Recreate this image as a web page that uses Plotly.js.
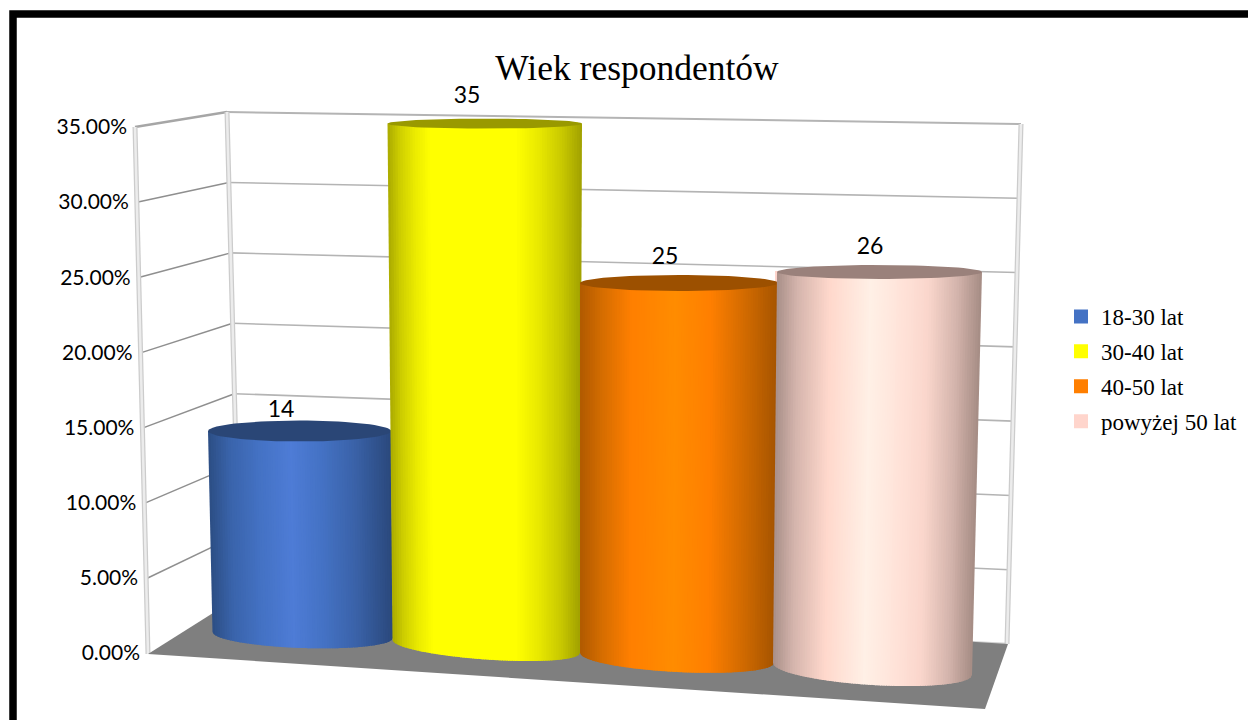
<!DOCTYPE html>
<html>
<head>
<meta charset="utf-8">
<script src="https://cdn.plot.ly/plotly-3.0.1.min.js"></script>
<style>html,body{margin:0;padding:0;background:#fff}#chart{width:1248px;height:720px}</style>
</head>
<body>
<div id="chart"></div>
<script>
// ---- data ----
const categories = ['18-30 lat', '30-40 lat', '40-50 lat', 'powyżej 50 lat'];
const values = [14, 35, 25, 26];
const tickValues = [0, 5, 10, 15, 20, 25, 30, 35];
const chartTitle = 'Wiek respondentów';

// ---- styles ----
const legendColors = ['#4472c4', '#ffff00', '#ff7f00', '#ffd5cc'];
const capColors = ['#2a4676', '#999900', '#9c5000', '#9a817b'];
const shading = [
  [[0,[44,78,132]],[.12,[58,100,172]],[.28,[68,114,196]],[.45,[78,124,214]],[.62,[68,114,196]],[.8,[58,98,168]],[1,[42,72,124]]],
  [[0,[170,170,0]],[.06,[205,205,0]],[.14,[235,235,0]],[.22,[255,255,0]],[.66,[255,255,0]],[.78,[232,232,0]],[.9,[200,200,0]],[1,[160,160,0]]],
  [[0,[176,90,0]],[.12,[215,110,0]],[.26,[255,127,0]],[.48,[255,140,0]],[.66,[255,127,0]],[.84,[208,106,0]],[1,[165,84,0]]],
  [[0,[168,143,136]],[.1,[212,180,172]],[.26,[255,216,204]],[.46,[255,240,230]],[.62,[255,226,216]],[.74,[250,214,204]],[.88,[212,180,172]],[1,[165,140,132]]]
];

// ---- projection geometry (pixels on the page) ----
const UNIT = 526 / 35;              // px per axis unit along the front-left edge
const ZERO = 653;                   // px of value 0 on the front-left edge
const yv = py => (ZERO - py) / UNIT;
const cyl = [
  {tl:208,   tr:391, bl:212.5, br:393, yl:632, yr:638, d:13, k:14.57, ry:10.5, lx:281, ly:411},
  {tl:387.5, tr:582, bl:392.5, br:580, yl:640, yr:653, d:13, k:14.94, ry:5,    lx:467, ly:97},
  {tl:580,   tr:778, bl:580,   br:774, yl:653, yr:663, d:14, k:15.0,  ry:8,    lx:665, ly:258},
  {tl:777,   tr:982, bl:773,   br:972, yl:663, yr:675, d:16, k:15.27, ry:7,    lx:870, ly:248}
];
const wall = {fx:135, fdx:13, fy:127, fh:527, bx:227, bdx:13, by:112, bh:493, rx:1021, rdx:-14, ry:124, rh:520};
const floorPoly = [[148,654],[240,596],[1008,644],[985,709]];

const traces = [];
const lerp = (a,b,t) => a + (b-a)*t;
const line = (pts, color, width) => traces.push({
  type:'scatter', mode:'lines', x:pts.map(p=>p[0]), y:pts.map(p=>yv(p[1])),
  line:{color, width}, hoverinfo:'skip', showlegend:false});
const poly = (pts, color) => traces.push({
  type:'scatter', mode:'lines', x:pts.map(p=>p[0]), y:pts.map(p=>yv(p[1])),
  fill:'toself', fillcolor:color, line:{width:0, color}, hoverinfo:'skip', showlegend:false});

// base bars: carry the data and the legend
categories.forEach((name,i)=>{
  const c = cyl[i], cx = (c.bl+c.br)/2, base = (c.yl+c.yr)/2;
  traces.push({type:'bar', name, x:[cx], base:[yv(base)], y:[values[i]*c.k/UNIT], width:[c.br-c.bl-6],
    marker:{color:legendColors[i], line:{color:legendColors[i], width:2}}, hoverinfo:'skip', legendgroup:name});
});

// walls
const frac = v => (35-v)/35;
const F = v => [wall.fx+wall.fdx*frac(v), wall.fy+wall.fh*frac(v)];
const B = v => [wall.bx+wall.bdx*frac(v), wall.by+wall.bh*frac(v)];
const R = v => [wall.rx+wall.rdx*frac(v), wall.ry+wall.rh*frac(v)];
tickValues.forEach(v=>{
  if (v===0) { line([B(v),R(v)],'#d0d0d0',2.5); return; }
  const top = v===35;
  line([F(v),B(v)], top?'#a6a6a6':'#8f8f8f', top?2.5:1.5);
  line([B(v),R(v)], '#b4b4b4', top?2:1.6);
});
[[F,35,0],[B,35,0],[R,35,0]].forEach(([f,a,b])=>{
  line([f(a),f(b)],'#cccccc',5);
  line([f(a),f(b)],'#ececec',2.5);
});
poly(floorPoly,'#7f7f7f');

// cylinders
const shade = (stops,t)=>{
  for(let j=1;j<stops.length;j++){
    if(t<=stops[j][0]){
      const [t0,c0]=stops[j-1],[t1,c1]=stops[j],u=(t-t0)/(t1-t0);
      return 'rgb('+c0.map((v,n)=>Math.round(lerp(v,c1[n],u))).join(',')+')';
    }
  }
  return 'rgb('+stops[stops.length-1][1].join(',')+')';
};
cyl.forEach((c,i)=>{
  const baseMid=(c.yl+c.yr)/2, topY=baseMid-values[i]*c.k;
  const bottom=t=>lerp(c.yl,c.yr,t)+c.d*Math.sqrt(Math.max(0,1-(2*t-1)*(2*t-1)));
  const n=Math.ceil((c.tr-c.tl)/2.5);
  for(let s=0;s<n;s++){
    const t0=s/n, t1=Math.min(1,(s+1.6)/n), tm=(s+.5)/n;
    const pts=[[lerp(c.tl,c.tr,t0),topY],[lerp(c.tl,c.tr,t1),topY]];
    const m=4;
    for(let q=m;q>=0;q--){const t=lerp(t0,t1,q/m);pts.push([lerp(c.bl,c.br,t),bottom(t)]);}
    poly(pts,shade(shading[i],tm));
  }
  const cx=(c.tl+c.tr)/2, rx=(c.tr-c.tl)/2, ell=[];
  for(let a=0;a<=72;a++){const th=a/72*2*Math.PI;ell.push([cx+rx*Math.cos(th),topY+c.ry*Math.sin(th)]);}
  poly(ell,capColors[i]);
});

// axis labels and data labels as real text, placed along the slanted front edge
traces.push({type:'scatter',mode:'text',hoverinfo:'skip',showlegend:false,cliponaxis:false,
  x:tickValues.map(v=>127+13*frac(v)), y:tickValues.map(v=>v-2/UNIT),
  text:tickValues.map(v=>v.toFixed(2)+'%'), textposition:'middle left',
  textfont:{family:'Lato',size:21,color:'#000'}});
traces.push({type:'scatter',mode:'text',hoverinfo:'skip',showlegend:false,cliponaxis:false,
  x:cyl.map(c=>c.lx),
  y:cyl.map(c=>yv(c.ly)),
  text:values.map(String), textposition:'middle center',
  textfont:{family:'Lato',size:23,color:'#000'}});

const layout = {
  width:1248, height:720, margin:{l:0,r:0,t:0,b:0},
  paper_bgcolor:'#fff', plot_bgcolor:'#fff',
  barmode:'overlay',
  title:{text:chartTitle, x:637/1248, xanchor:'center', xref:'paper', y:1-68/720, yanchor:'middle', yref:'container',
    font:{family:'Liberation Serif',size:35.5,color:'#000'}},
  xaxis:{visible:false, range:[0,1248], fixedrange:true},
  yaxis:{visible:false, range:[yv(720),yv(0)], fixedrange:true},
  showlegend:true,
  legend:{x:1061/1248, xanchor:'left', y:1-295/720, yanchor:'top', traceorder:'grouped', tracegroupgap:2,
    font:{family:'Liberation Serif',size:23,color:'#000'}, bgcolor:'rgba(0,0,0,0)', itemclick:false, itemdoubleclick:false},
  shapes:[{type:'rect',xref:'x',yref:'y',x0:13,x1:1300,y0:yv(14),y1:yv(800),line:{color:'#000',width:7.5},fillcolor:'rgba(0,0,0,0)',layer:'below'}]
};
Plotly.newPlot('chart',traces,layout,{displayModeBar:false,staticPlot:true});
</script>
</body>
</html>
